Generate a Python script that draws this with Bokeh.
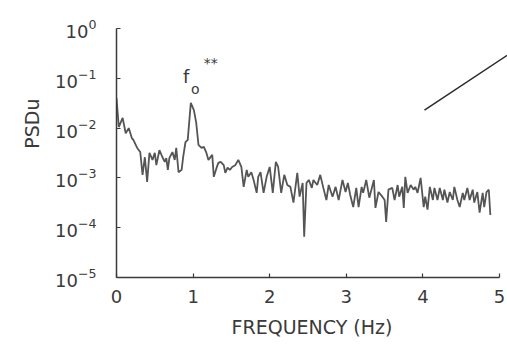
from bokeh.plotting import figure
from bokeh.models import Range1d, Title
from bokeh.core.properties import value
from bokeh.embed import file_html
from bokeh.resources import INLINE

freq = [0.00, 0.03, 0.08, 0.12, 0.16, 0.20, 0.22, 0.27, 0.31, 0.34, 0.37, 0.40, 0.43, 0.47, 0.50,
        0.52, 0.56, 0.60, 0.63, 0.65, 0.67, 0.69, 0.73, 0.76, 0.78, 0.81, 0.85, 0.87, 0.90, 0.93,
        0.97, 1.01, 1.04, 1.07, 1.11, 1.14, 1.17, 1.20, 1.25, 1.27, 1.31, 1.33, 1.36, 1.40, 1.42,
        1.45, 1.48, 1.51, 1.55, 1.59, 1.63, 1.66, 1.70, 1.72, 1.76, 1.79, 1.83, 1.85, 1.88, 1.92,
        1.96, 2.00, 2.04, 2.08, 2.11, 2.15, 2.19, 2.23, 2.27, 2.31, 2.36, 2.39, 2.43, 2.45, 2.48,
        2.51, 2.55, 2.57, 2.62, 2.66, 2.70, 2.74, 2.77, 2.82, 2.86, 2.90, 2.95, 2.99, 3.02, 3.05,
        3.09, 3.13, 3.16, 3.20, 3.22, 3.26, 3.30, 3.36, 3.38, 3.42, 3.47, 3.50, 3.52, 3.55, 3.60,
        3.63, 3.67, 3.69, 3.73, 3.75, 3.77, 3.80, 3.84, 3.88, 3.90, 3.93, 3.97, 4.01, 4.03, 4.06,
        4.09, 4.13, 4.15, 4.19, 4.22, 4.26, 4.28, 4.32, 4.35, 4.39, 4.41, 4.45, 4.48, 4.52, 4.54,
        4.58, 4.61, 4.65, 4.67, 4.71, 4.74, 4.78, 4.80, 4.83, 4.86, 4.88]

psd = [4.0e-2, 1.05e-2, 1.6e-2, 7.9e-3, 1.0e-2, 6.3e-3, 5.8e-3, 4.0e-3, 3.3e-3, 1.15e-3, 2.6e-3, 8.3e-4, 3.2e-3, 2.3e-3, 3.2e-3,
       1.8e-3, 3.6e-3, 2.6e-3, 2.1e-3, 2.5e-3, 1.45e-3, 2.5e-3, 3.3e-3, 2.3e-3, 4.0e-3, 1.3e-3, 1.45e-3, 2.6e-3, 5.2e-3, 5.8e-3,
       3.2e-2, 2.3e-2, 1.3e-2, 4.6e-3, 4.0e-3, 4.2e-3, 3.3e-3, 2.3e-3, 2.9e-3, 1.05e-3, 1.66e-3, 2.0e-3, 2.1e-3, 1.8e-3, 1.26e-3,
       1.6e-3, 1.45e-3, 1.66e-3, 1.8e-3, 2.3e-3, 1.66e-3, 6.6e-4, 1.45e-3, 1.05e-3, 1.3e-3, 9.1e-4, 5.0e-4, 1.05e-3, 1.3e-3, 5.0e-4,
       1.05e-3, 1.66e-3, 5.0e-4, 2.1e-3, 1.66e-3, 5.0e-4, 1.15e-3, 7.2e-4, 6.6e-4, 3.2e-4, 1.26e-3, 4.2e-4, 7.9e-4, 6.6e-5, 7.9e-4,
       9.1e-4, 6.3e-4, 9.1e-4, 7.2e-4, 1.15e-3, 6.3e-4, 3.6e-4, 7.2e-4, 4.2e-4, 6.6e-4, 3.6e-4, 9.1e-4, 5.2e-4, 7.9e-4, 4.6e-4,
       2.6e-4, 6.3e-4, 2.6e-4, 6.6e-4, 5.0e-4, 9.1e-4, 4.0e-4, 9.1e-4, 2.5e-4, 5.2e-4, 4.2e-4, 3.6e-4, 1.3e-4, 5.8e-4, 6.3e-4,
       3.6e-4, 7.2e-4, 4.2e-4, 6.6e-4, 2.5e-4, 1.05e-3, 5.0e-4, 7.2e-4, 5.8e-4, 6.6e-4, 5.0e-4, 1.0e-3, 2.6e-4, 4.2e-4, 2.3e-4,
       6.6e-4, 3.6e-4, 6.3e-4, 3.6e-4, 6.3e-4, 3.6e-4, 5.8e-4, 3.2e-4, 5.2e-4, 3.6e-4, 6.6e-4, 3.6e-4, 2.6e-4, 5.0e-4, 3.6e-4,
       6.3e-4, 3.6e-4, 5.8e-4, 3.2e-4, 5.2e-4, 2.0e-4, 5.0e-4, 2.6e-4, 5.2e-4, 5.8e-4, 1.8e-4]

slope_x = [4.02, 5.10]
slope_y = [0.023, 0.29]

x_ticks = [0, 1, 2, 3, 4, 5]
y_ticks = [1e-5, 1e-4, 1e-3, 1e-2, 1e-1, 1e0]

FONT = "DejaVu Sans"
INK = "#3a3a3a"

p = figure(width=507, height=340, y_axis_type="log",
           x_range=Range1d(0, 5.104), y_range=Range1d(1e-5, 1e0),
           output_backend="svg", toolbar_location=None,
           min_border_left=116, min_border_right=0, min_border_top=28, min_border_bottom=62)
p.outline_line_color = None
p.grid.visible = False
p.background_fill_color = "white"

p.line(freq, psd, line_color="#555555", line_width=1.8)
p.line(slope_x, slope_y, line_color="#2a2a2a", line_width=1.5)

# axes
p.xaxis.ticker = x_ticks
p.xaxis.bounds = (0, 5)
p.yaxis.ticker = y_ticks
for ax in (p.xaxis[0], p.yaxis[0]):
    ax.axis_line_color = INK
    ax.axis_line_width = 1.5
    ax.major_tick_line_color = INK
    ax.major_tick_line_width = 1.2
    ax.major_tick_in = 4
    ax.major_tick_out = 0
    ax.minor_tick_line_color = None
    ax.major_label_text_font = FONT
    ax.major_label_text_font_size = "18px"
    ax.major_label_text_color = INK
    ax.axis_label_text_font = FONT
    ax.axis_label_text_font_style = "normal"
    ax.axis_label_text_color = INK

p.xaxis.major_label_standoff = 12
p.yaxis.major_label_standoff = 20
p.xaxis.axis_label = "FREQUENCY (Hz)"
p.xaxis.axis_label_text_font_size = "19px"
p.xaxis.axis_label_standoff = 10

# y axis title beside the upper part of the axis, as in the original
p.add_layout(Title(text="PSDu", align="right", offset=70, standoff=20,
                   text_font=FONT, text_font_size="19px", text_font_style="normal",
                   text_color=INK), "left")

# peak annotation f_o **
p.text(x=[0.91], y=[0.11], text=["f"], text_font=value(FONT), text_font_size="18px",
       text_color=INK, text_align="center", text_baseline="middle")
p.text(x=[1.03], y=[0.060], text=["o"], text_font=value(FONT), text_font_size="14px",
       text_color=INK, text_align="center", text_baseline="middle")
p.text(x=[1.23], y=[0.20], text=["**"], text_font=value(FONT), text_font_size="14px",
       text_color=INK, text_align="center", text_baseline="middle")

open("out.html", "w").write(file_html(p, INLINE))
